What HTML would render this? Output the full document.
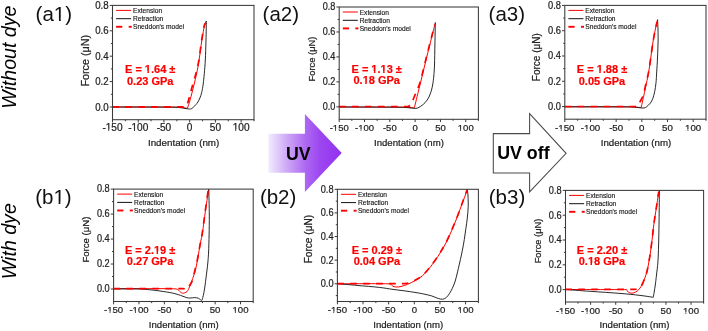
<!DOCTYPE html>
<html><head><meta charset="utf-8"><style>
html,body{margin:0;padding:0;background:#fff;}
svg{display:block;will-change:transform;filter:blur(0.25px);}
text{font-family:"Liberation Sans", sans-serif;}
.k{stroke:#222;stroke-width:0.22px;}
</style></head><body>
<svg width="708" height="331" viewBox="0 0 708 331">
<rect width="708" height="331" fill="#fff"/>
<g fill="#222">
<text transform="translate(16.3 57.2) rotate(-90)" text-anchor="middle" font-size="19.6" font-style="italic" fill="#000">Without dye</text>
<text transform="translate(16.3 241.2) rotate(-90)" text-anchor="middle" font-size="19.6" font-style="italic" fill="#000">With dye</text>
<text x="35.60" y="20.80" font-size="20.5" fill="#111">(a1)</text>
<text x="262.60" y="20.80" font-size="20.5" fill="#111">(a2)</text>
<text x="488.60" y="20.80" font-size="20.5" fill="#111">(a3)</text>
<text x="35.20" y="204.40" font-size="20.5" fill="#111">(b1)</text>
<text x="259.90" y="204.40" font-size="20.5" fill="#111">(b2)</text>
<text x="488.80" y="204.40" font-size="20.5" fill="#111">(b3)</text>
<defs><linearGradient id="uvg" gradientUnits="userSpaceOnUse" x1="268.4" y1="0" x2="341.7" y2="0">
<stop offset="0" stop-color="#f2ecfd"/><stop offset="0.29" stop-color="#c89ff5"/><stop offset="0.5" stop-color="#ae6af2"/><stop offset="0.7" stop-color="#9d47f0"/><stop offset="1" stop-color="#9230f0"/></linearGradient></defs>
<polygon points="268.4,133.8 304.9,133.8 304.9,114.1 341.7,153.1 304.9,191.9 304.9,172.7 268.4,172.7" fill="url(#uvg)"/>
<text x="298.3" y="159.6" text-anchor="middle" font-size="17.8" font-weight="bold" fill="#000">UV</text>
<polygon points="493.3,133.6 529.6,133.6 529.6,113.7 566.1,153.3 529.6,191.9 529.6,172.9 493.3,172.9" fill="#fff" stroke="#4a4a4a" stroke-width="1.05"/>
<text x="523.4" y="158.5" text-anchor="middle" font-size="17.8" font-weight="bold" fill="#000">UV off</text>
<path d="M112.50,107.00 C122.92,107.02 163.58,107.05 175.00,107.10 C177.40,107.11 179.33,107.15 181.00,107.30 C182.62,107.45 183.92,107.85 185.00,108.00 C185.99,108.14 187.08,108.17 187.50,108.20 C187.95,106.75 189.23,103.01 190.20,99.50 C191.32,95.47 192.85,89.75 194.20,84.00 C195.55,78.25 197.02,72.33 198.30,65.00 C199.58,57.67 200.85,46.67 201.90,40.00 C202.85,33.98 203.88,28.17 204.60,25.00 C204.98,23.32 205.93,21.67 206.20,21.00" fill="none" stroke="#ff0000" stroke-width="1.0" stroke-linejoin="round"/>
<path d="M206.40,21.00 C206.33,24.17 206.18,33.50 206.00,40.00 C205.82,46.50 205.58,54.42 205.30,60.00 C205.03,65.41 204.65,69.50 204.30,73.50 C203.95,77.50 203.63,80.83 203.20,84.00 C202.77,87.17 202.25,90.17 201.70,92.50 C201.17,94.75 200.53,96.42 199.90,98.00 C199.27,99.58 198.58,100.87 197.90,102.00 C197.22,103.13 196.48,104.00 195.80,104.80 C195.12,105.60 194.43,106.22 193.80,106.80 C193.17,107.38 192.53,107.93 192.00,108.30 C191.48,108.65 191.23,108.97 190.60,109.00 C189.60,109.05 187.77,108.83 186.00,108.60 C184.23,108.37 182.42,107.83 180.00,107.60 C177.33,107.35 174.00,107.14 170.00,107.10 C158.75,107.00 122.08,107.02 112.50,107.00" fill="none" stroke="#111" stroke-width="0.9" stroke-linejoin="round"/>
<path d="M112.50,106.90 C124.75,106.90 173.75,106.90 186.00,106.90 C186.38,105.92 187.56,103.42 188.30,101.00 C189.27,97.85 190.40,93.20 191.80,88.00 C193.42,82.00 196.35,73.00 198.00,65.00 C199.65,57.00 200.63,46.67 201.70,40.00 C202.66,33.98 203.72,27.83 204.40,25.00 C204.63,24.05 205.57,23.33 205.80,23.00" fill="none" stroke="#ff0000" stroke-width="1.7" stroke-dasharray="6.6 6.3" stroke-linejoin="round"/>
<rect x="112.50" y="5.40" width="141.50" height="114.30" fill="none" stroke="#3a3a3a" stroke-width="1.05"/>
<line x1="109.70" y1="107.00" x2="112.50" y2="107.00" stroke="#3a3a3a" stroke-width="1"/>
<text class="k" transform="translate(108.60 110.53) scale(0.960 1.060)" text-anchor="end" font-size="10.10">0.0</text>
<line x1="110.90" y1="94.30" x2="112.50" y2="94.30" stroke="#3a3a3a" stroke-width="1"/>
<line x1="109.70" y1="81.60" x2="112.50" y2="81.60" stroke="#3a3a3a" stroke-width="1"/>
<text class="k" transform="translate(108.60 85.13) scale(0.960 1.060)" text-anchor="end" font-size="10.10">0.2</text>
<line x1="110.90" y1="68.90" x2="112.50" y2="68.90" stroke="#3a3a3a" stroke-width="1"/>
<line x1="109.70" y1="56.20" x2="112.50" y2="56.20" stroke="#3a3a3a" stroke-width="1"/>
<text class="k" transform="translate(108.60 59.73) scale(0.960 1.060)" text-anchor="end" font-size="10.10">0.4</text>
<line x1="110.90" y1="43.50" x2="112.50" y2="43.50" stroke="#3a3a3a" stroke-width="1"/>
<line x1="109.70" y1="30.80" x2="112.50" y2="30.80" stroke="#3a3a3a" stroke-width="1"/>
<text class="k" transform="translate(108.60 34.33) scale(0.960 1.060)" text-anchor="end" font-size="10.10">0.6</text>
<line x1="110.90" y1="18.10" x2="112.50" y2="18.10" stroke="#3a3a3a" stroke-width="1"/>
<line x1="109.70" y1="5.40" x2="112.50" y2="5.40" stroke="#3a3a3a" stroke-width="1"/>
<text class="k" transform="translate(108.60 8.93) scale(0.960 1.060)" text-anchor="end" font-size="10.10">0.8</text>
<line x1="112.50" y1="119.70" x2="112.50" y2="122.50" stroke="#3a3a3a" stroke-width="1"/>
<text class="k" x="112.50" y="131.30" text-anchor="middle" font-size="10.10">-150</text>
<line x1="125.36" y1="119.70" x2="125.36" y2="121.30" stroke="#3a3a3a" stroke-width="1"/>
<line x1="138.23" y1="119.70" x2="138.23" y2="122.50" stroke="#3a3a3a" stroke-width="1"/>
<text class="k" x="138.23" y="131.30" text-anchor="middle" font-size="10.10">-100</text>
<line x1="151.09" y1="119.70" x2="151.09" y2="121.30" stroke="#3a3a3a" stroke-width="1"/>
<line x1="163.95" y1="119.70" x2="163.95" y2="122.50" stroke="#3a3a3a" stroke-width="1"/>
<text class="k" x="163.95" y="131.30" text-anchor="middle" font-size="10.10">-50</text>
<line x1="176.82" y1="119.70" x2="176.82" y2="121.30" stroke="#3a3a3a" stroke-width="1"/>
<line x1="189.68" y1="119.70" x2="189.68" y2="122.50" stroke="#3a3a3a" stroke-width="1"/>
<text class="k" x="189.68" y="131.30" text-anchor="middle" font-size="10.10">0</text>
<line x1="202.55" y1="119.70" x2="202.55" y2="121.30" stroke="#3a3a3a" stroke-width="1"/>
<line x1="215.41" y1="119.70" x2="215.41" y2="122.50" stroke="#3a3a3a" stroke-width="1"/>
<text class="k" x="215.41" y="131.30" text-anchor="middle" font-size="10.10">50</text>
<line x1="228.27" y1="119.70" x2="228.27" y2="121.30" stroke="#3a3a3a" stroke-width="1"/>
<line x1="241.14" y1="119.70" x2="241.14" y2="122.50" stroke="#3a3a3a" stroke-width="1"/>
<text class="k" x="241.14" y="131.30" text-anchor="middle" font-size="10.10">100</text>
<line x1="254.00" y1="119.70" x2="254.00" y2="121.30" stroke="#3a3a3a" stroke-width="1"/>
<text class="k" transform="translate(89.20 60.70) rotate(-90)" text-anchor="middle" font-size="10.80">Force (μN)</text>
<text class="k" x="183.60" y="146.40" text-anchor="middle" font-size="9.80">Indentation (nm)</text>
<line x1="116.10" y1="10.40" x2="131.10" y2="10.40" stroke="#ff0000" stroke-width="1"/>
<line x1="116.10" y1="18.70" x2="131.10" y2="18.70" stroke="#111" stroke-width="1"/>
<line x1="116.10" y1="26.80" x2="122.30" y2="26.80" stroke="#ff0000" stroke-width="1.9"/>
<line x1="128.70" y1="26.80" x2="131.70" y2="26.80" stroke="#ff0000" stroke-width="1.9"/>
<text x="133.00" y="12.90" font-size="6.65" fill="#111" stroke="#111" stroke-width="0.12">Extension</text>
<text x="133.00" y="21.20" font-size="6.65" fill="#111" stroke="#111" stroke-width="0.12">Retraction</text>
<text x="133.00" y="29.30" font-size="6.65" fill="#111" stroke="#111" stroke-width="0.12">Sneddon's model</text>
<text x="150.20" y="73.20" text-anchor="middle" font-size="11.00" font-weight="bold" fill="#ff0000" stroke="#ff0000" stroke-width="0.2">E = 1.64 ±</text>
<text x="150.20" y="84.50" text-anchor="middle" font-size="11.00" font-weight="bold" fill="#ff0000" stroke="#ff0000" stroke-width="0.2">0.23 GPa</text>
<path d="M339.20,107.00 C350.17,107.02 393.20,107.02 405.00,107.10 C407.01,107.11 408.43,107.42 410.00,107.50 C411.57,107.58 413.67,107.58 414.40,107.60 C415.45,103.33 418.68,90.27 420.70,82.00 C422.72,73.73 424.62,65.67 426.50,58.00 C428.38,50.33 430.52,41.92 432.00,36.00 C433.35,30.60 434.83,24.75 435.40,22.50" fill="none" stroke="#ff0000" stroke-width="1.0" stroke-linejoin="round"/>
<path d="M435.30,22.50 C435.28,23.75 435.25,27.00 435.20,30.00 C435.13,33.75 435.02,39.17 434.90,45.00 C434.78,50.83 434.68,59.83 434.50,65.00 C434.34,69.41 434.08,72.83 433.80,76.00 C433.52,79.17 433.18,81.67 432.80,84.00 C432.42,86.33 432.00,88.17 431.50,90.00 C431.00,91.83 430.40,93.52 429.80,95.00 C429.20,96.48 428.70,97.62 427.90,98.90 C427.10,100.18 425.95,101.65 425.00,102.70 C424.05,103.75 423.20,104.43 422.20,105.20 C421.20,105.97 420.05,106.77 419.00,107.30 C417.95,107.83 417.21,108.29 415.90,108.40 C414.57,108.52 412.82,108.17 411.00,108.00 C409.18,107.83 407.41,107.47 405.00,107.40 C399.83,107.25 390.00,107.16 380.00,107.10 C369.03,107.03 346.00,107.02 339.20,107.00" fill="none" stroke="#111" stroke-width="0.9" stroke-linejoin="round"/>
<path d="M339.20,106.50 C350.67,106.50 396.53,106.50 408.00,106.50 C408.38,106.28 409.61,106.00 410.30,105.20 C411.02,104.37 411.61,103.03 412.30,101.50 C413.22,99.47 414.48,96.25 415.80,93.00 C417.12,89.75 418.85,86.54 420.20,82.00 C421.93,76.17 424.27,65.67 426.20,58.00 C428.13,50.33 430.37,41.58 431.80,36.00 C432.98,31.40 434.30,26.42 434.80,24.50" fill="none" stroke="#ff0000" stroke-width="1.7" stroke-dasharray="6.6 6.3" stroke-linejoin="round"/>
<rect x="339.20" y="7.00" width="139.20" height="112.30" fill="none" stroke="#3a3a3a" stroke-width="1.05"/>
<line x1="336.40" y1="106.82" x2="339.20" y2="106.82" stroke="#3a3a3a" stroke-width="1"/>
<text class="k" transform="translate(335.30 110.13) scale(0.960 1.060)" text-anchor="end" font-size="9.50">0.0</text>
<line x1="337.60" y1="94.34" x2="339.20" y2="94.34" stroke="#3a3a3a" stroke-width="1"/>
<line x1="336.40" y1="81.87" x2="339.20" y2="81.87" stroke="#3a3a3a" stroke-width="1"/>
<text class="k" transform="translate(335.30 85.17) scale(0.960 1.060)" text-anchor="end" font-size="9.50">0.2</text>
<line x1="337.60" y1="69.39" x2="339.20" y2="69.39" stroke="#3a3a3a" stroke-width="1"/>
<line x1="336.40" y1="56.91" x2="339.20" y2="56.91" stroke="#3a3a3a" stroke-width="1"/>
<text class="k" transform="translate(335.30 60.22) scale(0.960 1.060)" text-anchor="end" font-size="9.50">0.4</text>
<line x1="337.60" y1="44.43" x2="339.20" y2="44.43" stroke="#3a3a3a" stroke-width="1"/>
<line x1="336.40" y1="31.96" x2="339.20" y2="31.96" stroke="#3a3a3a" stroke-width="1"/>
<text class="k" transform="translate(335.30 35.26) scale(0.960 1.060)" text-anchor="end" font-size="9.50">0.6</text>
<line x1="337.60" y1="19.48" x2="339.20" y2="19.48" stroke="#3a3a3a" stroke-width="1"/>
<line x1="336.40" y1="7.00" x2="339.20" y2="7.00" stroke="#3a3a3a" stroke-width="1"/>
<text class="k" transform="translate(335.30 10.31) scale(0.960 1.060)" text-anchor="end" font-size="9.50">0.8</text>
<line x1="339.20" y1="119.30" x2="339.20" y2="122.10" stroke="#3a3a3a" stroke-width="1"/>
<text class="k" x="339.20" y="130.90" text-anchor="middle" font-size="9.50">-150</text>
<line x1="351.85" y1="119.30" x2="351.85" y2="120.90" stroke="#3a3a3a" stroke-width="1"/>
<line x1="364.51" y1="119.30" x2="364.51" y2="122.10" stroke="#3a3a3a" stroke-width="1"/>
<text class="k" x="364.51" y="130.90" text-anchor="middle" font-size="9.50">-100</text>
<line x1="377.16" y1="119.30" x2="377.16" y2="120.90" stroke="#3a3a3a" stroke-width="1"/>
<line x1="389.82" y1="119.30" x2="389.82" y2="122.10" stroke="#3a3a3a" stroke-width="1"/>
<text class="k" x="389.82" y="130.90" text-anchor="middle" font-size="9.50">-50</text>
<line x1="402.47" y1="119.30" x2="402.47" y2="120.90" stroke="#3a3a3a" stroke-width="1"/>
<line x1="415.13" y1="119.30" x2="415.13" y2="122.10" stroke="#3a3a3a" stroke-width="1"/>
<text class="k" x="415.13" y="130.90" text-anchor="middle" font-size="9.50">0</text>
<line x1="427.78" y1="119.30" x2="427.78" y2="120.90" stroke="#3a3a3a" stroke-width="1"/>
<line x1="440.44" y1="119.30" x2="440.44" y2="122.10" stroke="#3a3a3a" stroke-width="1"/>
<text class="k" x="440.44" y="130.90" text-anchor="middle" font-size="9.50">50</text>
<line x1="453.09" y1="119.30" x2="453.09" y2="120.90" stroke="#3a3a3a" stroke-width="1"/>
<line x1="465.75" y1="119.30" x2="465.75" y2="122.10" stroke="#3a3a3a" stroke-width="1"/>
<text class="k" x="465.75" y="130.90" text-anchor="middle" font-size="9.50">100</text>
<line x1="478.40" y1="119.30" x2="478.40" y2="120.90" stroke="#3a3a3a" stroke-width="1"/>
<text class="k" transform="translate(314.60 59.00) rotate(-90)" text-anchor="middle" font-size="9.40">Force (μN)</text>
<text class="k" x="408.90" y="145.50" text-anchor="middle" font-size="9.60">Indentation (nm)</text>
<line x1="342.80" y1="12.00" x2="357.80" y2="12.00" stroke="#ff0000" stroke-width="1"/>
<line x1="342.80" y1="20.30" x2="357.80" y2="20.30" stroke="#111" stroke-width="1"/>
<line x1="342.80" y1="28.40" x2="349.00" y2="28.40" stroke="#ff0000" stroke-width="1.9"/>
<line x1="355.40" y1="28.40" x2="358.40" y2="28.40" stroke="#ff0000" stroke-width="1.9"/>
<text x="359.70" y="14.50" font-size="6.65" fill="#111" stroke="#111" stroke-width="0.12">Extension</text>
<text x="359.70" y="22.80" font-size="6.65" fill="#111" stroke="#111" stroke-width="0.12">Retraction</text>
<text x="359.70" y="30.90" font-size="6.65" fill="#111" stroke="#111" stroke-width="0.12">Sneddon's model</text>
<text x="376.70" y="73.00" text-anchor="middle" font-size="11.00" font-weight="bold" fill="#ff0000" stroke="#ff0000" stroke-width="0.2">E = 1.13 ±</text>
<text x="376.70" y="84.40" text-anchor="middle" font-size="11.00" font-weight="bold" fill="#ff0000" stroke="#ff0000" stroke-width="0.2">0.18 GPa</text>
<path d="M564.80,106.80 C576.00,106.82 619.97,106.82 632.00,106.90 C634.01,106.91 635.47,107.22 637.00,107.30 C638.53,107.38 640.50,107.38 641.20,107.40 C641.83,104.50 643.70,96.23 645.00,90.00 C646.30,83.77 647.66,78.05 649.00,70.00 C650.38,61.67 651.90,48.37 653.30,40.00 C654.66,31.87 656.72,23.17 657.40,19.80" fill="none" stroke="#ff0000" stroke-width="1.0" stroke-linejoin="round"/>
<path d="M657.60,19.60 C657.67,21.33 657.92,26.60 658.00,30.00 C658.08,33.40 658.17,36.00 658.10,40.00 C658.02,44.67 657.73,52.67 657.50,58.00 C657.27,63.33 656.95,67.88 656.70,72.00 C656.45,76.12 656.33,79.43 656.00,82.70 C655.67,85.97 655.23,88.97 654.70,91.60 C654.17,94.23 653.53,96.57 652.80,98.50 C652.07,100.43 651.35,101.82 650.30,103.20 C649.25,104.58 647.55,106.00 646.50,106.80 C645.62,107.47 645.08,107.83 644.00,108.00 C642.92,108.17 641.07,107.90 640.00,107.80 C639.03,107.71 638.57,107.49 637.60,107.40 C635.93,107.25 633.05,106.95 630.00,106.90 C623.73,106.80 610.87,106.82 600.00,106.80 C589.13,106.78 570.67,106.80 564.80,106.80" fill="none" stroke="#111" stroke-width="0.9" stroke-linejoin="round"/>
<path d="M564.80,106.50 C576.88,106.50 625.22,106.50 637.30,106.50 C637.77,105.70 639.10,103.62 640.10,101.70 C641.10,99.78 642.41,97.83 643.30,95.00 C644.33,91.72 645.35,86.17 646.30,82.00 C647.25,77.83 648.19,74.85 649.00,70.00 C650.17,63.00 651.97,48.00 653.30,40.00 C654.51,32.75 656.38,25.00 657.00,22.00" fill="none" stroke="#ff0000" stroke-width="1.7" stroke-dasharray="6.6 6.3" stroke-linejoin="round"/>
<rect x="564.80" y="5.40" width="141.20" height="113.80" fill="none" stroke="#3a3a3a" stroke-width="1.05"/>
<line x1="562.00" y1="106.56" x2="564.80" y2="106.56" stroke="#3a3a3a" stroke-width="1"/>
<text class="k" transform="translate(560.90 109.94) scale(0.960 1.060)" text-anchor="end" font-size="9.70">0.0</text>
<line x1="563.20" y1="93.91" x2="564.80" y2="93.91" stroke="#3a3a3a" stroke-width="1"/>
<line x1="562.00" y1="81.27" x2="564.80" y2="81.27" stroke="#3a3a3a" stroke-width="1"/>
<text class="k" transform="translate(560.90 84.65) scale(0.960 1.060)" text-anchor="end" font-size="9.70">0.2</text>
<line x1="563.20" y1="68.62" x2="564.80" y2="68.62" stroke="#3a3a3a" stroke-width="1"/>
<line x1="562.00" y1="55.98" x2="564.80" y2="55.98" stroke="#3a3a3a" stroke-width="1"/>
<text class="k" transform="translate(560.90 59.36) scale(0.960 1.060)" text-anchor="end" font-size="9.70">0.4</text>
<line x1="563.20" y1="43.33" x2="564.80" y2="43.33" stroke="#3a3a3a" stroke-width="1"/>
<line x1="562.00" y1="30.69" x2="564.80" y2="30.69" stroke="#3a3a3a" stroke-width="1"/>
<text class="k" transform="translate(560.90 34.07) scale(0.960 1.060)" text-anchor="end" font-size="9.70">0.6</text>
<line x1="563.20" y1="18.04" x2="564.80" y2="18.04" stroke="#3a3a3a" stroke-width="1"/>
<line x1="562.00" y1="5.40" x2="564.80" y2="5.40" stroke="#3a3a3a" stroke-width="1"/>
<text class="k" transform="translate(560.90 8.78) scale(0.960 1.060)" text-anchor="end" font-size="9.70">0.8</text>
<line x1="564.80" y1="119.20" x2="564.80" y2="122.00" stroke="#3a3a3a" stroke-width="1"/>
<text class="k" x="564.80" y="130.80" text-anchor="middle" font-size="9.70">-150</text>
<line x1="577.64" y1="119.20" x2="577.64" y2="120.80" stroke="#3a3a3a" stroke-width="1"/>
<line x1="590.47" y1="119.20" x2="590.47" y2="122.00" stroke="#3a3a3a" stroke-width="1"/>
<text class="k" x="590.47" y="130.80" text-anchor="middle" font-size="9.70">-100</text>
<line x1="603.31" y1="119.20" x2="603.31" y2="120.80" stroke="#3a3a3a" stroke-width="1"/>
<line x1="616.15" y1="119.20" x2="616.15" y2="122.00" stroke="#3a3a3a" stroke-width="1"/>
<text class="k" x="616.15" y="130.80" text-anchor="middle" font-size="9.70">-50</text>
<line x1="628.98" y1="119.20" x2="628.98" y2="120.80" stroke="#3a3a3a" stroke-width="1"/>
<line x1="641.82" y1="119.20" x2="641.82" y2="122.00" stroke="#3a3a3a" stroke-width="1"/>
<text class="k" x="641.82" y="130.80" text-anchor="middle" font-size="9.70">0</text>
<line x1="654.65" y1="119.20" x2="654.65" y2="120.80" stroke="#3a3a3a" stroke-width="1"/>
<line x1="667.49" y1="119.20" x2="667.49" y2="122.00" stroke="#3a3a3a" stroke-width="1"/>
<text class="k" x="667.49" y="130.80" text-anchor="middle" font-size="9.70">50</text>
<line x1="680.33" y1="119.20" x2="680.33" y2="120.80" stroke="#3a3a3a" stroke-width="1"/>
<line x1="693.16" y1="119.20" x2="693.16" y2="122.00" stroke="#3a3a3a" stroke-width="1"/>
<text class="k" x="693.16" y="130.80" text-anchor="middle" font-size="9.70">100</text>
<line x1="706.00" y1="119.20" x2="706.00" y2="120.80" stroke="#3a3a3a" stroke-width="1"/>
<text class="k" transform="translate(540.20 57.20) rotate(-90)" text-anchor="middle" font-size="10.00">Force (μN)</text>
<text class="k" x="636.00" y="145.50" text-anchor="middle" font-size="9.70">Indentation (nm)</text>
<line x1="568.40" y1="10.40" x2="583.40" y2="10.40" stroke="#ff0000" stroke-width="1"/>
<line x1="568.40" y1="18.70" x2="583.40" y2="18.70" stroke="#111" stroke-width="1"/>
<line x1="568.40" y1="26.80" x2="574.60" y2="26.80" stroke="#ff0000" stroke-width="1.9"/>
<line x1="581.00" y1="26.80" x2="584.00" y2="26.80" stroke="#ff0000" stroke-width="1.9"/>
<text x="585.30" y="12.90" font-size="6.65" fill="#111" stroke="#111" stroke-width="0.12">Extension</text>
<text x="585.30" y="21.20" font-size="6.65" fill="#111" stroke="#111" stroke-width="0.12">Retraction</text>
<text x="585.30" y="29.30" font-size="6.65" fill="#111" stroke="#111" stroke-width="0.12">Sneddon's model</text>
<text x="602.00" y="73.20" text-anchor="middle" font-size="11.00" font-weight="bold" fill="#ff0000" stroke="#ff0000" stroke-width="0.2">E = 1.88 ±</text>
<text x="602.00" y="84.60" text-anchor="middle" font-size="11.00" font-weight="bold" fill="#ff0000" stroke="#ff0000" stroke-width="0.2">0.05 GPa</text>
<path d="M113.60,288.80 C124.00,288.82 164.83,288.33 176.00,288.90 C178.26,289.01 179.48,291.48 180.60,292.20 C181.38,292.70 181.77,293.27 182.70,293.20 C183.75,293.12 185.77,292.75 186.90,291.70 C188.03,290.65 188.62,288.90 189.50,286.90 C190.47,284.70 191.72,281.32 192.70,278.50 C193.68,275.68 194.60,273.08 195.40,270.00 C196.20,266.92 196.88,263.25 197.50,260.00 C198.12,256.75 198.55,253.67 199.10,250.50 C199.65,247.33 200.27,243.75 200.80,241.00 C201.33,238.25 201.86,236.83 202.30,234.00 C203.00,229.50 203.95,221.48 205.00,214.00 C206.05,206.52 208.00,193.25 208.60,189.10" fill="none" stroke="#ff0000" stroke-width="1.0" stroke-linejoin="round"/>
<path d="M208.80,189.10 C208.88,193.42 209.25,207.35 209.30,215.00 C209.35,222.65 209.22,228.83 209.10,235.00 C208.98,241.17 208.80,247.50 208.60,252.00 C208.42,256.01 208.17,259.00 207.90,262.00 C207.63,265.00 207.32,267.33 207.00,270.00 C206.68,272.67 206.32,275.48 206.00,278.00 C205.68,280.52 205.45,282.65 205.10,285.10 C204.75,287.55 204.28,290.63 203.90,292.70 C203.54,294.64 203.12,296.25 202.80,297.50 C202.52,298.59 202.47,299.88 202.00,300.20 C201.53,300.52 200.62,299.73 200.00,299.40 C199.38,299.07 199.09,298.46 198.30,298.20 C197.38,297.90 195.80,297.63 194.50,297.60 C193.20,297.57 191.77,297.98 190.50,298.00 C189.23,298.02 188.30,298.07 186.90,297.70 C185.25,297.27 182.97,296.17 180.60,295.40 C178.23,294.63 175.92,293.79 172.70,293.10 C169.27,292.37 163.78,291.55 160.00,291.00 C156.22,290.45 153.47,290.13 150.00,289.80 C146.53,289.47 143.53,289.12 139.20,289.00 C133.13,288.83 117.87,288.83 113.60,288.80" fill="none" stroke="#111" stroke-width="0.9" stroke-linejoin="round"/>
<path d="M113.60,288.60 C125.20,288.60 171.05,288.45 183.20,288.60 C184.57,288.62 185.62,289.78 186.50,289.50 C187.38,289.22 187.75,287.97 188.50,286.90 C189.37,285.67 190.84,284.24 191.70,282.10 C192.70,279.62 193.57,275.68 194.50,272.00 C195.43,268.32 196.53,263.67 197.30,260.00 C198.07,256.33 198.52,253.17 199.10,250.00 C199.68,246.83 200.27,243.83 200.80,241.00 C201.33,238.17 201.82,236.22 202.30,233.00 C203.00,228.33 204.02,220.17 205.00,213.00 C205.98,205.83 207.67,193.83 208.20,190.00" fill="none" stroke="#ff0000" stroke-width="1.7" stroke-dasharray="6.6 6.3" stroke-linejoin="round"/>
<rect x="113.60" y="189.10" width="139.60" height="112.40" fill="none" stroke="#3a3a3a" stroke-width="1.05"/>
<line x1="110.80" y1="289.01" x2="113.60" y2="289.01" stroke="#3a3a3a" stroke-width="1"/>
<text class="k" transform="translate(109.70 292.35) scale(0.960 1.060)" text-anchor="end" font-size="9.60">0.0</text>
<line x1="112.00" y1="276.52" x2="113.60" y2="276.52" stroke="#3a3a3a" stroke-width="1"/>
<line x1="110.80" y1="264.03" x2="113.60" y2="264.03" stroke="#3a3a3a" stroke-width="1"/>
<text class="k" transform="translate(109.70 267.38) scale(0.960 1.060)" text-anchor="end" font-size="9.60">0.2</text>
<line x1="112.00" y1="251.54" x2="113.60" y2="251.54" stroke="#3a3a3a" stroke-width="1"/>
<line x1="110.80" y1="239.06" x2="113.60" y2="239.06" stroke="#3a3a3a" stroke-width="1"/>
<text class="k" transform="translate(109.70 242.40) scale(0.960 1.060)" text-anchor="end" font-size="9.60">0.4</text>
<line x1="112.00" y1="226.57" x2="113.60" y2="226.57" stroke="#3a3a3a" stroke-width="1"/>
<line x1="110.80" y1="214.08" x2="113.60" y2="214.08" stroke="#3a3a3a" stroke-width="1"/>
<text class="k" transform="translate(109.70 217.42) scale(0.960 1.060)" text-anchor="end" font-size="9.60">0.6</text>
<line x1="112.00" y1="201.59" x2="113.60" y2="201.59" stroke="#3a3a3a" stroke-width="1"/>
<line x1="110.80" y1="189.10" x2="113.60" y2="189.10" stroke="#3a3a3a" stroke-width="1"/>
<text class="k" transform="translate(109.70 192.44) scale(0.960 1.060)" text-anchor="end" font-size="9.60">0.8</text>
<line x1="113.60" y1="301.50" x2="113.60" y2="304.30" stroke="#3a3a3a" stroke-width="1"/>
<text class="k" x="113.60" y="313.10" text-anchor="middle" font-size="9.60">-150</text>
<line x1="126.29" y1="301.50" x2="126.29" y2="303.10" stroke="#3a3a3a" stroke-width="1"/>
<line x1="138.98" y1="301.50" x2="138.98" y2="304.30" stroke="#3a3a3a" stroke-width="1"/>
<text class="k" x="138.98" y="313.10" text-anchor="middle" font-size="9.60">-100</text>
<line x1="151.67" y1="301.50" x2="151.67" y2="303.10" stroke="#3a3a3a" stroke-width="1"/>
<line x1="164.36" y1="301.50" x2="164.36" y2="304.30" stroke="#3a3a3a" stroke-width="1"/>
<text class="k" x="164.36" y="313.10" text-anchor="middle" font-size="9.60">-50</text>
<line x1="177.05" y1="301.50" x2="177.05" y2="303.10" stroke="#3a3a3a" stroke-width="1"/>
<line x1="189.75" y1="301.50" x2="189.75" y2="304.30" stroke="#3a3a3a" stroke-width="1"/>
<text class="k" x="189.75" y="313.10" text-anchor="middle" font-size="9.60">0</text>
<line x1="202.44" y1="301.50" x2="202.44" y2="303.10" stroke="#3a3a3a" stroke-width="1"/>
<line x1="215.13" y1="301.50" x2="215.13" y2="304.30" stroke="#3a3a3a" stroke-width="1"/>
<text class="k" x="215.13" y="313.10" text-anchor="middle" font-size="9.60">50</text>
<line x1="227.82" y1="301.50" x2="227.82" y2="303.10" stroke="#3a3a3a" stroke-width="1"/>
<line x1="240.51" y1="301.50" x2="240.51" y2="304.30" stroke="#3a3a3a" stroke-width="1"/>
<text class="k" x="240.51" y="313.10" text-anchor="middle" font-size="9.60">100</text>
<line x1="253.20" y1="301.50" x2="253.20" y2="303.10" stroke="#3a3a3a" stroke-width="1"/>
<text class="k" transform="translate(89.40 239.60) rotate(-90)" text-anchor="middle" font-size="9.60">Force (μN)</text>
<text class="k" x="183.80" y="328.10" text-anchor="middle" font-size="9.60">Indentation (nm)</text>
<line x1="117.20" y1="194.10" x2="132.20" y2="194.10" stroke="#ff0000" stroke-width="1"/>
<line x1="117.20" y1="202.40" x2="132.20" y2="202.40" stroke="#111" stroke-width="1"/>
<line x1="117.20" y1="210.50" x2="123.40" y2="210.50" stroke="#ff0000" stroke-width="1.9"/>
<line x1="129.80" y1="210.50" x2="132.80" y2="210.50" stroke="#ff0000" stroke-width="1.9"/>
<text x="134.10" y="196.60" font-size="6.65" fill="#111" stroke="#111" stroke-width="0.12">Extension</text>
<text x="134.10" y="204.90" font-size="6.65" fill="#111" stroke="#111" stroke-width="0.12">Retraction</text>
<text x="134.10" y="213.00" font-size="6.65" fill="#111" stroke="#111" stroke-width="0.12">Sneddon's model</text>
<text x="150.10" y="253.50" text-anchor="middle" font-size="11.00" font-weight="bold" fill="#ff0000" stroke="#ff0000" stroke-width="0.2">E = 2.19 ±</text>
<text x="150.10" y="264.80" text-anchor="middle" font-size="11.00" font-weight="bold" fill="#ff0000" stroke="#ff0000" stroke-width="0.2">0.27 GPa</text>
<path d="M337.40,283.80 C346.17,283.82 380.73,283.47 390.00,283.90 C391.56,283.97 391.83,285.88 393.00,286.40 C394.17,286.92 395.67,286.98 397.00,287.00 C398.33,287.02 399.44,286.90 401.00,286.50 C402.77,286.05 405.25,285.28 407.60,284.30 C409.95,283.32 412.58,282.07 415.10,280.60 C417.62,279.13 420.18,277.73 422.70,275.50 C425.22,273.27 427.68,270.35 430.20,267.20 C432.72,264.05 435.83,259.50 437.80,256.60 C439.59,253.95 440.73,251.90 442.00,249.80 C443.27,247.70 444.15,246.38 445.40,244.00 C446.65,241.62 448.07,238.67 449.50,235.50 C450.93,232.33 452.58,228.42 454.00,225.00 C455.42,221.58 456.67,218.50 458.00,215.00 C459.33,211.50 460.83,207.17 462.00,204.00 C463.17,200.83 464.12,198.45 465.00,196.00 C465.88,193.55 466.92,190.42 467.30,189.30" fill="none" stroke="#ff0000" stroke-width="1.0" stroke-linejoin="round"/>
<path d="M467.30,189.30 C467.42,190.42 467.86,193.31 468.00,196.00 C468.15,198.90 468.32,203.03 468.20,206.70 C468.08,210.37 467.68,214.38 467.30,218.00 C466.92,221.62 466.40,224.82 465.90,228.40 C465.40,231.98 464.88,235.87 464.30,239.50 C463.72,243.13 463.05,246.87 462.40,250.20 C461.75,253.53 461.07,256.48 460.40,259.50 C459.73,262.52 459.00,265.72 458.40,268.30 C457.80,270.88 457.28,273.05 456.80,275.00 C456.32,276.95 455.93,278.50 455.50,280.00 C455.07,281.50 454.75,282.57 454.20,284.00 C453.65,285.43 452.97,287.05 452.20,288.60 C451.43,290.15 450.60,291.80 449.60,293.30 C448.60,294.80 447.37,296.62 446.20,297.60 C445.03,298.58 443.92,299.05 442.60,299.20 C441.28,299.35 439.97,299.00 438.30,298.50 C436.47,297.95 433.82,296.60 431.60,295.90 C429.38,295.20 426.98,294.75 425.00,294.30 C423.02,293.85 421.83,293.57 419.70,293.20 C416.70,292.68 411.45,291.83 407.00,291.20 C402.55,290.57 397.62,290.03 393.00,289.40 C388.38,288.77 384.80,288.01 379.30,287.40 C373.47,286.75 363.72,286.02 358.00,285.50 C352.80,285.03 348.43,284.58 345.00,284.30 C341.96,284.05 338.67,283.88 337.40,283.80" fill="none" stroke="#111" stroke-width="0.9" stroke-linejoin="round"/>
<path d="M337.40,283.70 C347.83,283.70 388.90,283.72 400.00,283.70 C401.60,283.70 402.50,283.75 404.00,283.60 C405.50,283.45 407.15,283.35 409.00,282.80 C410.85,282.25 412.82,281.57 415.10,280.30 C417.38,279.03 420.18,277.43 422.70,275.20 C425.22,272.97 427.68,270.05 430.20,266.90 C432.72,263.75 435.83,259.20 437.80,256.30 C439.59,253.65 440.73,251.60 442.00,249.50 C443.27,247.40 444.15,246.08 445.40,243.70 C446.65,241.32 448.07,238.37 449.50,235.20 C450.93,232.03 452.58,228.12 454.00,224.70 C455.42,221.28 456.67,218.20 458.00,214.70 C459.33,211.20 460.83,206.87 462.00,203.70 C463.17,200.53 464.17,197.98 465.00,195.70 C465.83,193.43 466.67,190.95 467.00,190.00" fill="none" stroke="#ff0000" stroke-width="1.7" stroke-dasharray="6.6 6.3" stroke-linejoin="round"/>
<rect x="337.40" y="189.30" width="141.00" height="112.20" fill="none" stroke="#3a3a3a" stroke-width="1.05"/>
<line x1="335.80" y1="295.59" x2="337.40" y2="295.59" stroke="#3a3a3a" stroke-width="1"/>
<line x1="334.60" y1="283.78" x2="337.40" y2="283.78" stroke="#3a3a3a" stroke-width="1"/>
<text class="k" transform="translate(333.50 287.13) scale(0.960 1.060)" text-anchor="end" font-size="9.60">0.0</text>
<line x1="335.80" y1="271.97" x2="337.40" y2="271.97" stroke="#3a3a3a" stroke-width="1"/>
<line x1="334.60" y1="260.16" x2="337.40" y2="260.16" stroke="#3a3a3a" stroke-width="1"/>
<text class="k" transform="translate(333.50 263.51) scale(0.960 1.060)" text-anchor="end" font-size="9.60">0.2</text>
<line x1="335.80" y1="248.35" x2="337.40" y2="248.35" stroke="#3a3a3a" stroke-width="1"/>
<line x1="334.60" y1="236.54" x2="337.40" y2="236.54" stroke="#3a3a3a" stroke-width="1"/>
<text class="k" transform="translate(333.50 239.89) scale(0.960 1.060)" text-anchor="end" font-size="9.60">0.4</text>
<line x1="335.80" y1="224.73" x2="337.40" y2="224.73" stroke="#3a3a3a" stroke-width="1"/>
<line x1="334.60" y1="212.92" x2="337.40" y2="212.92" stroke="#3a3a3a" stroke-width="1"/>
<text class="k" transform="translate(333.50 216.26) scale(0.960 1.060)" text-anchor="end" font-size="9.60">0.6</text>
<line x1="335.80" y1="201.11" x2="337.40" y2="201.11" stroke="#3a3a3a" stroke-width="1"/>
<line x1="334.60" y1="189.30" x2="337.40" y2="189.30" stroke="#3a3a3a" stroke-width="1"/>
<text class="k" transform="translate(333.50 192.64) scale(0.960 1.060)" text-anchor="end" font-size="9.60">0.8</text>
<line x1="337.40" y1="301.50" x2="337.40" y2="304.30" stroke="#3a3a3a" stroke-width="1"/>
<text class="k" x="337.40" y="313.10" text-anchor="middle" font-size="9.60">-150</text>
<line x1="350.22" y1="301.50" x2="350.22" y2="303.10" stroke="#3a3a3a" stroke-width="1"/>
<line x1="363.04" y1="301.50" x2="363.04" y2="304.30" stroke="#3a3a3a" stroke-width="1"/>
<text class="k" x="363.04" y="313.10" text-anchor="middle" font-size="9.60">-100</text>
<line x1="375.85" y1="301.50" x2="375.85" y2="303.10" stroke="#3a3a3a" stroke-width="1"/>
<line x1="388.67" y1="301.50" x2="388.67" y2="304.30" stroke="#3a3a3a" stroke-width="1"/>
<text class="k" x="388.67" y="313.10" text-anchor="middle" font-size="9.60">-50</text>
<line x1="401.49" y1="301.50" x2="401.49" y2="303.10" stroke="#3a3a3a" stroke-width="1"/>
<line x1="414.31" y1="301.50" x2="414.31" y2="304.30" stroke="#3a3a3a" stroke-width="1"/>
<text class="k" x="414.31" y="313.10" text-anchor="middle" font-size="9.60">0</text>
<line x1="427.13" y1="301.50" x2="427.13" y2="303.10" stroke="#3a3a3a" stroke-width="1"/>
<line x1="439.95" y1="301.50" x2="439.95" y2="304.30" stroke="#3a3a3a" stroke-width="1"/>
<text class="k" x="439.95" y="313.10" text-anchor="middle" font-size="9.60">50</text>
<line x1="452.76" y1="301.50" x2="452.76" y2="303.10" stroke="#3a3a3a" stroke-width="1"/>
<line x1="465.58" y1="301.50" x2="465.58" y2="304.30" stroke="#3a3a3a" stroke-width="1"/>
<text class="k" x="465.58" y="313.10" text-anchor="middle" font-size="9.60">100</text>
<line x1="478.40" y1="301.50" x2="478.40" y2="303.10" stroke="#3a3a3a" stroke-width="1"/>
<text class="k" transform="translate(312.30 239.10) rotate(-90)" text-anchor="middle" font-size="10.10">Force (μN)</text>
<text class="k" x="408.20" y="327.70" text-anchor="middle" font-size="9.60">Indentation (nm)</text>
<line x1="341.00" y1="194.30" x2="356.00" y2="194.30" stroke="#ff0000" stroke-width="1"/>
<line x1="341.00" y1="202.60" x2="356.00" y2="202.60" stroke="#111" stroke-width="1"/>
<line x1="341.00" y1="210.70" x2="347.20" y2="210.70" stroke="#ff0000" stroke-width="1.9"/>
<line x1="353.60" y1="210.70" x2="356.60" y2="210.70" stroke="#ff0000" stroke-width="1.9"/>
<text x="357.90" y="196.80" font-size="6.65" fill="#111" stroke="#111" stroke-width="0.12">Extension</text>
<text x="357.90" y="205.10" font-size="6.65" fill="#111" stroke="#111" stroke-width="0.12">Retraction</text>
<text x="357.90" y="213.20" font-size="6.65" fill="#111" stroke="#111" stroke-width="0.12">Sneddon's model</text>
<text x="376.90" y="253.80" text-anchor="middle" font-size="11.00" font-weight="bold" fill="#ff0000" stroke="#ff0000" stroke-width="0.2">E = 0.29 ±</text>
<text x="376.90" y="265.20" text-anchor="middle" font-size="11.00" font-weight="bold" fill="#ff0000" stroke="#ff0000" stroke-width="0.2">0.04 GPa</text>
<path d="M565.50,289.50 C575.68,289.52 616.42,289.58 626.60,289.60 C626.92,290.05 627.58,291.70 628.50,292.30 C629.42,292.90 630.90,293.25 632.10,293.20 C633.30,293.15 634.50,292.70 635.70,292.00 C636.90,291.30 638.18,290.30 639.30,289.00 C640.42,287.70 641.48,286.02 642.40,284.20 C643.32,282.38 644.03,280.22 644.80,278.10 C645.57,275.98 646.35,274.02 647.00,271.50 C647.65,268.98 648.12,266.25 648.70,263.00 C649.28,259.75 649.90,256.17 650.50,252.00 C651.10,247.83 651.75,242.53 652.30,238.00 C652.85,233.47 653.12,229.88 653.80,224.80 C654.48,219.72 655.53,213.23 656.40,207.50 C657.27,201.77 658.57,193.25 659.00,190.40" fill="none" stroke="#ff0000" stroke-width="1.0" stroke-linejoin="round"/>
<path d="M659.40,190.40 C659.37,193.67 659.27,204.23 659.20,210.00 C659.13,215.77 659.10,219.17 659.00,225.00 C658.90,230.83 658.78,238.83 658.60,245.00 C658.42,251.17 658.25,257.00 657.90,262.00 C657.55,267.00 656.93,271.17 656.50,275.00 C656.07,278.83 655.68,282.17 655.30,285.00 C654.92,287.81 654.53,289.95 654.20,292.00 C653.87,294.05 653.45,296.42 653.30,297.30 C651.08,296.98 645.34,296.03 640.00,295.40 C634.45,294.75 628.01,294.06 620.00,293.40 C611.67,292.72 599.08,291.95 590.00,291.30 C580.92,290.65 569.58,289.80 565.50,289.50" fill="none" stroke="#111" stroke-width="0.9" stroke-linejoin="round"/>
<path d="M565.50,289.40 C577.00,289.40 622.50,289.47 634.50,289.40 C635.71,289.39 636.58,289.35 637.50,289.00 C638.42,288.65 639.18,288.13 640.00,287.30 C640.82,286.47 641.66,285.45 642.40,284.00 C643.20,282.43 644.03,280.02 644.80,277.90 C645.57,275.78 646.35,273.82 647.00,271.30 C647.65,268.78 648.12,266.05 648.70,262.80 C649.28,259.55 649.90,255.97 650.50,251.80 C651.10,247.63 651.75,242.33 652.30,237.80 C652.85,233.27 653.12,229.68 653.80,224.60 C654.48,219.52 655.58,212.73 656.40,207.30 C657.22,201.87 658.32,194.55 658.70,192.00" fill="none" stroke="#ff0000" stroke-width="1.7" stroke-dasharray="6.6 6.3" stroke-linejoin="round"/>
<rect x="565.50" y="190.40" width="138.10" height="111.60" fill="none" stroke="#3a3a3a" stroke-width="1.05"/>
<line x1="562.70" y1="289.60" x2="565.50" y2="289.60" stroke="#3a3a3a" stroke-width="1"/>
<text class="k" transform="translate(561.60 292.94) scale(0.960 1.060)" text-anchor="end" font-size="9.60">0.0</text>
<line x1="563.90" y1="277.20" x2="565.50" y2="277.20" stroke="#3a3a3a" stroke-width="1"/>
<line x1="562.70" y1="264.80" x2="565.50" y2="264.80" stroke="#3a3a3a" stroke-width="1"/>
<text class="k" transform="translate(561.60 268.14) scale(0.960 1.060)" text-anchor="end" font-size="9.60">0.2</text>
<line x1="563.90" y1="252.40" x2="565.50" y2="252.40" stroke="#3a3a3a" stroke-width="1"/>
<line x1="562.70" y1="240.00" x2="565.50" y2="240.00" stroke="#3a3a3a" stroke-width="1"/>
<text class="k" transform="translate(561.60 243.34) scale(0.960 1.060)" text-anchor="end" font-size="9.60">0.4</text>
<line x1="563.90" y1="227.60" x2="565.50" y2="227.60" stroke="#3a3a3a" stroke-width="1"/>
<line x1="562.70" y1="215.20" x2="565.50" y2="215.20" stroke="#3a3a3a" stroke-width="1"/>
<text class="k" transform="translate(561.60 218.54) scale(0.960 1.060)" text-anchor="end" font-size="9.60">0.6</text>
<line x1="563.90" y1="202.80" x2="565.50" y2="202.80" stroke="#3a3a3a" stroke-width="1"/>
<line x1="562.70" y1="190.40" x2="565.50" y2="190.40" stroke="#3a3a3a" stroke-width="1"/>
<text class="k" transform="translate(561.60 193.74) scale(0.960 1.060)" text-anchor="end" font-size="9.60">0.8</text>
<line x1="565.50" y1="302.00" x2="565.50" y2="304.80" stroke="#3a3a3a" stroke-width="1"/>
<text class="k" x="565.50" y="313.60" text-anchor="middle" font-size="9.60">-150</text>
<line x1="578.05" y1="302.00" x2="578.05" y2="303.60" stroke="#3a3a3a" stroke-width="1"/>
<line x1="590.61" y1="302.00" x2="590.61" y2="304.80" stroke="#3a3a3a" stroke-width="1"/>
<text class="k" x="590.61" y="313.60" text-anchor="middle" font-size="9.60">-100</text>
<line x1="603.16" y1="302.00" x2="603.16" y2="303.60" stroke="#3a3a3a" stroke-width="1"/>
<line x1="615.72" y1="302.00" x2="615.72" y2="304.80" stroke="#3a3a3a" stroke-width="1"/>
<text class="k" x="615.72" y="313.60" text-anchor="middle" font-size="9.60">-50</text>
<line x1="628.27" y1="302.00" x2="628.27" y2="303.60" stroke="#3a3a3a" stroke-width="1"/>
<line x1="640.83" y1="302.00" x2="640.83" y2="304.80" stroke="#3a3a3a" stroke-width="1"/>
<text class="k" x="640.83" y="313.60" text-anchor="middle" font-size="9.60">0</text>
<line x1="653.38" y1="302.00" x2="653.38" y2="303.60" stroke="#3a3a3a" stroke-width="1"/>
<line x1="665.94" y1="302.00" x2="665.94" y2="304.80" stroke="#3a3a3a" stroke-width="1"/>
<text class="k" x="665.94" y="313.60" text-anchor="middle" font-size="9.60">50</text>
<line x1="678.49" y1="302.00" x2="678.49" y2="303.60" stroke="#3a3a3a" stroke-width="1"/>
<line x1="691.05" y1="302.00" x2="691.05" y2="304.80" stroke="#3a3a3a" stroke-width="1"/>
<text class="k" x="691.05" y="313.60" text-anchor="middle" font-size="9.60">100</text>
<line x1="703.60" y1="302.00" x2="703.60" y2="303.60" stroke="#3a3a3a" stroke-width="1"/>
<text class="k" transform="translate(541.40 241.00) rotate(-90)" text-anchor="middle" font-size="9.30">Force (μN)</text>
<text class="k" x="634.50" y="327.70" text-anchor="middle" font-size="9.60">Indentation (nm)</text>
<line x1="569.10" y1="195.40" x2="584.10" y2="195.40" stroke="#ff0000" stroke-width="1"/>
<line x1="569.10" y1="203.70" x2="584.10" y2="203.70" stroke="#111" stroke-width="1"/>
<line x1="569.10" y1="211.80" x2="575.30" y2="211.80" stroke="#ff0000" stroke-width="1.9"/>
<line x1="581.70" y1="211.80" x2="584.70" y2="211.80" stroke="#ff0000" stroke-width="1.9"/>
<text x="586.00" y="197.90" font-size="6.65" fill="#111" stroke="#111" stroke-width="0.12">Extension</text>
<text x="586.00" y="206.20" font-size="6.65" fill="#111" stroke="#111" stroke-width="0.12">Retraction</text>
<text x="586.00" y="214.30" font-size="6.65" fill="#111" stroke="#111" stroke-width="0.12">Sneddon's model</text>
<text x="602.00" y="253.80" text-anchor="middle" font-size="11.00" font-weight="bold" fill="#ff0000" stroke="#ff0000" stroke-width="0.2">E = 2.20 ±</text>
<text x="602.00" y="265.20" text-anchor="middle" font-size="11.00" font-weight="bold" fill="#ff0000" stroke="#ff0000" stroke-width="0.2">0.18 GPa</text>
<rect x="54.88" y="18.27" width="4.09" height="3.33" fill="#fff"/>
<rect x="60.79" y="18.27" width="3.93" height="3.33" fill="#fff"/>
<rect x="54.48" y="201.87" width="4.09" height="3.33" fill="#fff"/>
<rect x="60.39" y="201.87" width="3.93" height="3.33" fill="#fff"/>
<rect x="106.03" y="129.55" width="2.27" height="2.55" fill="#fff"/>
<rect x="109.19" y="129.55" width="2.19" height="2.55" fill="#fff"/>
<rect x="131.76" y="129.55" width="2.27" height="2.55" fill="#fff"/>
<rect x="134.92" y="129.55" width="2.19" height="2.55" fill="#fff"/>
<rect x="232.99" y="129.55" width="2.27" height="2.55" fill="#fff"/>
<rect x="236.15" y="129.55" width="2.19" height="2.55" fill="#fff"/>
<rect x="144.76" y="71.08" width="2.67" height="2.92" fill="#fff"/>
<rect x="148.94" y="71.08" width="2.53" height="2.92" fill="#fff"/>
<rect x="333.07" y="129.19" width="2.17" height="2.51" fill="#fff"/>
<rect x="336.08" y="129.19" width="2.09" height="2.51" fill="#fff"/>
<rect x="358.38" y="129.19" width="2.17" height="2.51" fill="#fff"/>
<rect x="361.39" y="129.19" width="2.09" height="2.51" fill="#fff"/>
<rect x="458.04" y="129.19" width="2.17" height="2.51" fill="#fff"/>
<rect x="461.05" y="129.19" width="2.09" height="2.51" fill="#fff"/>
<rect x="371.26" y="70.88" width="2.67" height="2.92" fill="#fff"/>
<rect x="375.44" y="70.88" width="2.53" height="2.92" fill="#fff"/>
<rect x="380.44" y="70.88" width="2.67" height="2.92" fill="#fff"/>
<rect x="384.63" y="70.88" width="2.53" height="2.92" fill="#fff"/>
<rect x="362.52" y="82.28" width="2.67" height="2.92" fill="#fff"/>
<rect x="366.71" y="82.28" width="2.53" height="2.92" fill="#fff"/>
<rect x="558.56" y="129.08" width="2.20" height="2.52" fill="#fff"/>
<rect x="561.62" y="129.08" width="2.12" height="2.52" fill="#fff"/>
<rect x="584.23" y="129.08" width="2.20" height="2.52" fill="#fff"/>
<rect x="587.29" y="129.08" width="2.12" height="2.52" fill="#fff"/>
<rect x="685.31" y="129.08" width="2.20" height="2.52" fill="#fff"/>
<rect x="688.37" y="129.08" width="2.12" height="2.52" fill="#fff"/>
<rect x="596.56" y="71.08" width="2.67" height="2.92" fill="#fff"/>
<rect x="600.74" y="71.08" width="2.53" height="2.92" fill="#fff"/>
<rect x="107.42" y="311.38" width="2.18" height="2.52" fill="#fff"/>
<rect x="110.45" y="311.38" width="2.11" height="2.52" fill="#fff"/>
<rect x="132.80" y="311.38" width="2.18" height="2.52" fill="#fff"/>
<rect x="135.83" y="311.38" width="2.11" height="2.52" fill="#fff"/>
<rect x="232.73" y="311.38" width="2.18" height="2.52" fill="#fff"/>
<rect x="235.76" y="311.38" width="2.11" height="2.52" fill="#fff"/>
<rect x="153.84" y="251.38" width="2.67" height="2.92" fill="#fff"/>
<rect x="158.03" y="251.38" width="2.53" height="2.92" fill="#fff"/>
<rect x="331.22" y="311.38" width="2.18" height="2.52" fill="#fff"/>
<rect x="334.25" y="311.38" width="2.11" height="2.52" fill="#fff"/>
<rect x="356.86" y="311.38" width="2.18" height="2.52" fill="#fff"/>
<rect x="359.89" y="311.38" width="2.11" height="2.52" fill="#fff"/>
<rect x="457.80" y="311.38" width="2.18" height="2.52" fill="#fff"/>
<rect x="460.83" y="311.38" width="2.11" height="2.52" fill="#fff"/>
<rect x="559.32" y="311.88" width="2.18" height="2.52" fill="#fff"/>
<rect x="562.35" y="311.88" width="2.11" height="2.52" fill="#fff"/>
<rect x="584.43" y="311.88" width="2.18" height="2.52" fill="#fff"/>
<rect x="587.46" y="311.88" width="2.11" height="2.52" fill="#fff"/>
<rect x="683.27" y="311.88" width="2.18" height="2.52" fill="#fff"/>
<rect x="686.30" y="311.88" width="2.11" height="2.52" fill="#fff"/>
<rect x="587.82" y="263.08" width="2.67" height="2.92" fill="#fff"/>
<rect x="592.01" y="263.08" width="2.53" height="2.92" fill="#fff"/>
</g>
</svg>
</body></html>
